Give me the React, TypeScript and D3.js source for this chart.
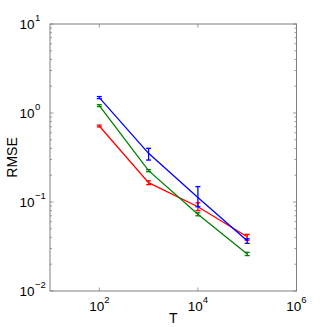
import * as d3 from 'd3';
import React from 'react';

// sample sizes on the x axis
const tValues = [100, 1000, 10000, 100000];

// RMSE per method, with lower / upper error bar ends
const blueMean = [1.49, 0.352, 0.1125, 0.0367];
const blueLow = [1.45, 0.296, 0.0885, 0.0343];
const blueHigh = [1.53, 0.401, 0.149, 0.0386];

const greenMean = [1.21, 0.225, 0.0728, 0.0261];
const greenLow = [1.18, 0.219, 0.0700, 0.0250];
const greenHigh = [1.24, 0.231, 0.0756, 0.0272];

const redMean = [0.714, 0.165, 0.0885, 0.0407];
const redLow = [0.697, 0.157, 0.080, 0.0372];
const redHigh = [0.731, 0.173, 0.098, 0.0433];

const xTickExps = [2, 4, 6];
const yTickExps = [1, 0, -1, -2];

const W = 327, H = 327;
const left = 50, right = 296.5, top = 24, bottom = 291;
const font = 'Liberation Sans, Arial, Helvetica, sans-serif';
const axisColor = '#7f7f7f';

export default function App() {
  const x = d3.scaleLog().domain([10, 1e6]).range([left, right]);
  const y = d3.scaleLog().domain([1e-2, 10]).range([bottom, top]);

  const series = [
    { color: '#ff0000', mean: redMean, low: redLow, high: redHigh },
    { color: '#008000', mean: greenMean, low: greenLow, high: greenHigh },
    { color: '#0000ff', mean: blueMean, low: blueLow, high: blueHigh },
  ];

  const line = d3.line<number>()
    .x((d, i) => x(tValues[i]))
    .y(d => y(d));

  // minor ticks on y: 2..9 times each decade
  const yMinor: number[] = [];
  for (let e = -2; e < 1; e++) {
    for (let m = 2; m <= 9; m++) yMinor.push(m * Math.pow(10, e));
  }

  return (
    <svg width={W} height={H} style={{ position: 'absolute', left: 0, top: 0, background: '#fff' }}
      fontFamily={font}>
      <rect x={0} y={0} width={W} height={H} fill="#fff" />

      {/* ticks */}
      {yMinor.map((v, i) => (
        <g key={'ym' + i} stroke={axisColor} strokeWidth={0.8}>
          <line x1={left} x2={left + 2} y1={y(v)} y2={y(v)} />
          <line x1={right} x2={right - 2} y1={y(v)} y2={y(v)} />
        </g>
      ))}
      {yTickExps.map(e => (
        <g key={'yM' + e} stroke={axisColor} strokeWidth={0.8}>
          <line x1={left} x2={left + 3.5} y1={y(Math.pow(10, e))} y2={y(Math.pow(10, e))} />
          <line x1={right} x2={right - 3.5} y1={y(Math.pow(10, e))} y2={y(Math.pow(10, e))} />
        </g>
      ))}
      {xTickExps.map(e => (
        <g key={'xM' + e} stroke={axisColor} strokeWidth={0.8}>
          <line x1={x(Math.pow(10, e))} x2={x(Math.pow(10, e))} y1={bottom} y2={bottom - 3.5} />
          <line x1={x(Math.pow(10, e))} x2={x(Math.pow(10, e))} y1={top} y2={top + 3.5} />
        </g>
      ))}

      {/* box */}
      <rect x={left} y={top} width={right - left} height={bottom - top}
        fill="none" stroke={axisColor} strokeWidth={1} />

      {/* data */}
      {series.map((s, si) => (
        <g key={si} stroke={s.color} strokeWidth={1.3} fill="none">
          <path d={line(s.mean) || ''} />
          {tValues.map((t, i) => {
            const cx = x(t);
            return (
              <g key={i}>
                <line x1={cx} x2={cx} y1={y(s.low[i])} y2={y(s.high[i])} />
                <line x1={cx - 2.5} x2={cx + 2.5} y1={y(s.low[i])} y2={y(s.low[i])} />
                <line x1={cx - 2.5} x2={cx + 2.5} y1={y(s.high[i])} y2={y(s.high[i])} />
              </g>
            );
          })}
        </g>
      ))}

      {/* y tick labels */}
      {yTickExps.map(e => {
        const ty = y(Math.pow(10, e));
        return (
          <g key={'yl' + e} fill="#000">
            <text x={34.5} y={ty + 5} fontSize={13.5} textAnchor="end">10</text>
            <text x={35} y={ty - 3} fontSize={9.5}>{e < 0 ? '\u2212' + Math.abs(e) : String(e)}</text>
          </g>
        );
      })}

      {/* x tick labels */}
      {xTickExps.map(e => (
        <text key={'xl' + e} x={x(Math.pow(10, e))} y={311} fontSize={13.5} textAnchor="middle" fill="#000">
          <tspan>10</tspan>
          <tspan dy={-8} fontSize={9.5}>{String(e)}</tspan>
        </text>
      ))}

      {/* axis labels */}
      <text x={(left + right) / 2} y={323} fontSize={14} textAnchor="middle" fill="#000">T</text>
      <text transform={`translate(17,${(top + bottom) / 2}) rotate(-90)`} fontSize={14}
        textAnchor="middle" fill="#000">RMSE</text>
    </svg>
  );
}
